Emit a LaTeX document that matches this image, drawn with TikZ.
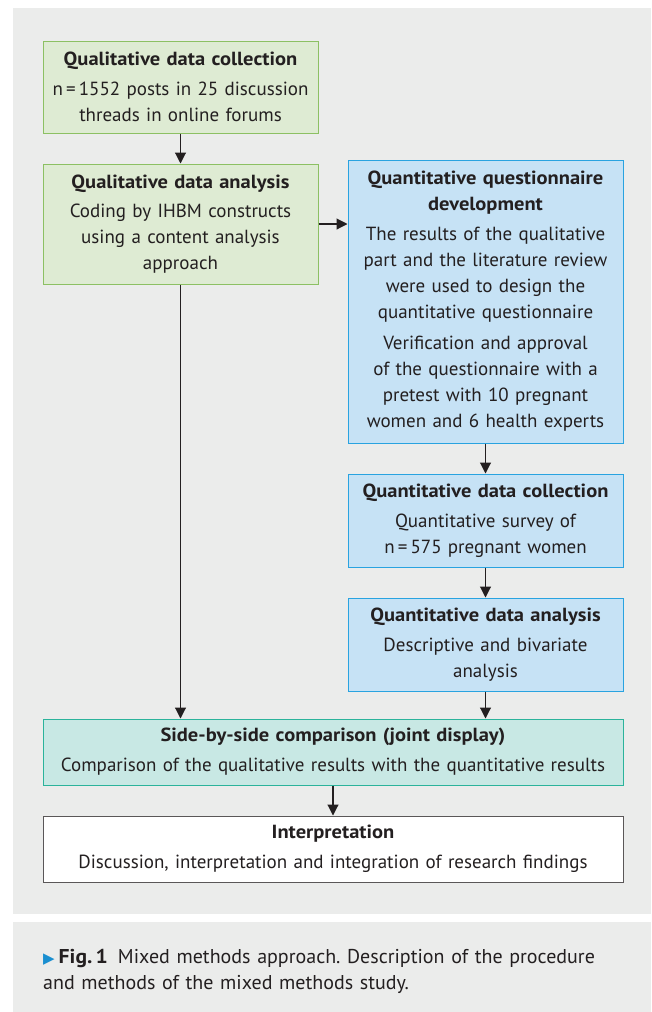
\documentclass[tikz,border=0pt]{standalone}
\usepackage{fontspec}
\setmainfont{PT Sans}[BoldFeatures={FakeStretch=1.08}]
\newfontfamily\symfont{DejaVu Sans}
\usepackage{xcolor}
\usetikzlibrary{positioning}
\usetikzlibrary{arrows.meta}
\frenchspacing
\definecolor{panelgray}{HTML}{EBECEB}
\definecolor{inkdark}{HTML}{231F20}
\definecolor{qualfill}{HTML}{DEEBD3}
\definecolor{qualline}{HTML}{8CC063}
\definecolor{quanfill}{HTML}{C6E2F5}
\definecolor{quanline}{HTML}{29A3E0}
\definecolor{jointfill}{HTML}{C8E8E4}
\definecolor{jointline}{HTML}{2BB39B}
\definecolor{capblue}{HTML}{1A8FD0}
\tikzset{>=stealth}
\tikzstyle{line} = [draw, inkdark, line width=1.1pt, -{Triangle[length=11pt,width=11pt]}]
\tikzstyle{stepbox} = [draw, line width=1pt, align=center, text=inkdark, inner xsep=4pt, inner ysep=2pt,
  font=\fontsize{19}{26}\selectfont]
\tikzstyle{qualbox} = [stepbox, fill=qualfill, draw=qualline, text width=267pt]
\tikzstyle{quanbox} = [stepbox, fill=quanfill, draw=quanline, text width=267pt]
\begin{document}
\begin{tikzpicture}[x=1pt, y=-1pt]
    \useasboundingbox (0,0) rectangle (651,1012);
    \fill [white] (0,0) rectangle (651,1012);
    \fill [panelgray] (13,8) rectangle (651,914);
    \fill [panelgray] (13,922) rectangle (651,1012);
    %% Qualitative strand
    \node [qualbox, minimum height=92pt] (qualcoll) at (180.5,87)
      {\textbf{Qualitative data collection}\\[4pt] n\,=\,1552 posts in 25 discussion\\ threads in online forums};
    \node [qualbox, minimum height=120pt, below=30pt of qualcoll] (qualanal)
      {\textbf{Qualitative data analysis}\\[3pt] Coding by IHBM constructs\\ using a content analysis\\ approach};
    %% Quantitative strand
    \node [quanbox, minimum height=283pt] (questdev) at (485.5,301.5)
      {\textbf{Quantitative questionnaire}\\ \textbf{development}\\[4pt] The results of the qualitative\\ part and the literature review\\
       were used to design the\\ quantitative questionnaire\\[5pt] Verification and approval\\ of the questionnaire with a\\
       pretest with 10 pregnant\\ women and 6 health experts};
    \node [quanbox, minimum height=93pt, below=30pt of questdev] (quancoll)
      {\textbf{Quantitative data collection}\\[4pt] Quantitative survey of\\ n\,=\,575 pregnant women};
    \node [quanbox, minimum height=93pt, below=30pt of quancoll] (quananal)
      {\textbf{Quantitative data analysis}\\[4pt] Descriptive and bivariate\\ analysis};
    %% Integration
    \node [stepbox, fill=jointfill, draw=jointline, text width=572pt, minimum height=66pt] (joint) at (333,752)
      {\textbf{Side-by-side comparison (joint display)}\\[4pt] Comparison of the qualitative results with the quantitative results};
    \node [stepbox, fill=white, draw=inkdark!75, text width=572pt, minimum height=66pt, below=30pt of joint] (interp)
      {\textbf{Interpretation}\\[4pt] Discussion, interpretation and integration of research findings};
    %% Flows
    \path [line] (qualcoll) -- (qualanal);
    \path [line] (qualanal.east) -- (qualanal.east -| questdev.west);
    \path [line] (questdev) -- (quancoll);
    \path [line] (quancoll) -- (quananal);
    \path [line] (qualanal.south) -- (qualanal.south |- joint.north);
    \path [line] (quananal.south) -- (quananal.south |- joint.north);
    \path [line] (joint) -- (interp);
    %% Caption
    \node [anchor=north west, inner sep=0pt, text width=600pt, align=left, text=inkdark,
      font=\fontsize{20}{26}\selectfont] (caption) at (43,949)
      {{\symfont\color{capblue}\fontsize{15}{15}\selectfont ▶}\hspace{4pt}\textbf{Fig.\,1}\hspace{10pt}Mixed methods approach. Description of the procedure\\
       and methods of the mixed methods study.};
\end{tikzpicture}
\end{document}
